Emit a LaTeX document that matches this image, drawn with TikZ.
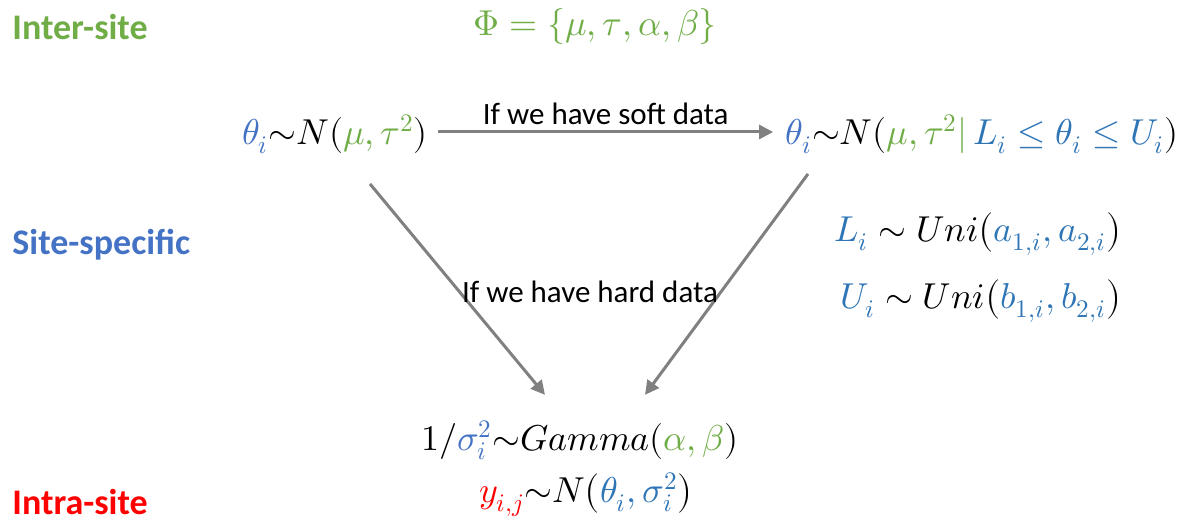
\documentclass[tikz,border=0pt]{standalone}
\usepackage{fontspec}
\usepackage{unicode-math}
\setmainfont{Carlito}
\setmathfont{Latin Modern Math}
\usetikzlibrary{arrows.meta,calc}
\definecolor{pgreen}{HTML}{70AD47}
\definecolor{pblue}{HTML}{4472C4}
\definecolor{dblue}{HTML}{2E75B6}
\definecolor{pred}{HTML}{FF0000}
\definecolor{agray}{HTML}{808080}
\tikzset{
  lvl/.style={font=\fontsize{18}{21}\selectfont\bfseries, inner sep=0pt, anchor=west},
  frm/.style={font=\fontsize{18}{21}\selectfont, inner sep=0pt},
  lbl/.style={font=\fontsize{15.5}{18}\selectfont, inner sep=0pt},
  arr/.style={draw=agray, line width=1.5pt, -{Triangle[length=7pt,width=7pt]}}
}
\begin{document}
\begin{tikzpicture}[x=0.5pt,y=-0.5pt]
\useasboundingbox (0,0) rectangle (1188,523);
% level labels
\node[lvl, text=pgreen] (inter) at (12,27) {Inter-site};
\node[lvl, text=pblue] (site) at (12,245) {Site-specific};
\node[lvl, text=pred] (intra) at (12,502) {Intra-site};
% formulas
\node[frm, text=pgreen] (phi) at (595,27) {$\mitPhi=\{\mu,\tau,\alpha,\beta\}$};
\node[frm] (th1) at (335,134) {$\color{pblue}\theta_i\color{black}\mathord{\sim} N(\color{pgreen}\mu,\tau^2\color{black})$};
\node[frm] (th2) at (982,134) {$\color{pblue}\theta_i\color{black}\mathord{\sim} N(\color{pgreen}\mu,\tau^2\mathord{|}\,\color{dblue}L_i\le\theta_i\le U_i\color{black})$};
\node[frm] (li) at (978,233) {$\color{dblue}L_i\color{black}\sim Uni\bigl(\color{dblue}a_{1,i},a_{2,i}\color{black}\bigr)$};
\node[frm] (ui) at (981,300) {$\color{dblue}U_i\color{black}\sim Uni\bigl(\color{dblue}b_{1,i},b_{2,i}\color{black}\bigr)$};
\node[frm] (gam) at (580,440) {$1/\color{pblue}\sigma_i^2\color{black}\mathord{\sim} Gamma(\color{pgreen}\alpha,\beta\color{black})$};
\node[frm] (yij) at (586,494) {$\color{pred}y_{i,j}\color{black}\mathord{\sim} N\bigl(\color{dblue}\theta_i,\sigma_i^2\color{black}\bigr)$};
% connectors
\draw[arr] ($(th1.east)+(10,-2)$) -- node[lbl, above=3pt] (soft) {If we have soft data} ($(th2.west)+(-12,-2)$);
\draw[arr] ($(th1.south)+(35,30)$) -- ($(gam.north)+(-35,-25)$);
\draw[arr] ($(th2.south)+(-174,20)$) -- ($(gam.north)+(65,-25)$);
\node[lbl] (hard) at (590,292) {If we have hard data};
\end{tikzpicture}
\end{document}
